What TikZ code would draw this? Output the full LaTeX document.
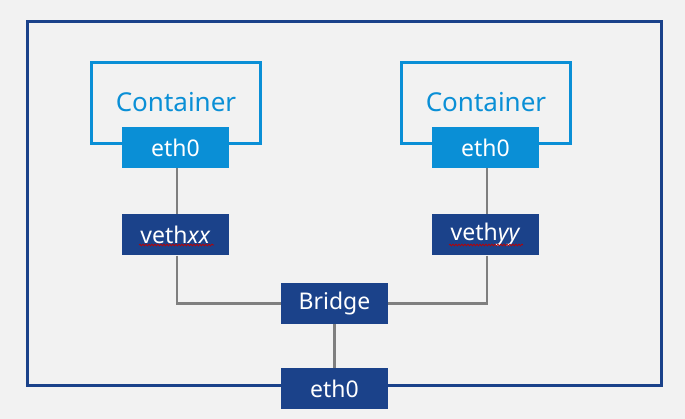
\documentclass[tikz,border=0pt]{standalone}
\usepackage{fontspec}
\setmainfont{Noto Sans}
\usetikzlibrary{decorations.pathmorphing}
\definecolor{navy}{HTML}{1B428A}
\definecolor{lblue}{HTML}{0A8FD6}
\definecolor{bg}{HTML}{F2F2F2}
\definecolor{wire}{HTML}{7F7F7F}
\begin{document}
\begin{tikzpicture}[x=1pt,y=-1pt,
  navybox/.style={fill=navy,text=white,minimum width=107pt,minimum height=41pt,inner sep=0pt,font=\fontsize{23}{26}\selectfont},
  bluebox/.style={fill=lblue,text=white,minimum width=107pt,minimum height=41pt,inner sep=0pt,font=\fontsize{23}{26}\selectfont},
  cont/.style={draw=lblue,line width=3pt,minimum width=169pt,minimum height=81pt,inner sep=0pt},
  ctext/.style={text=lblue,font=\fontsize{26}{30}\selectfont},
  link/.style={draw=wire,line width=2.6pt},
  squig/.style={draw=red!75!black,line width=0.7pt,decorate,decoration={snake,amplitude=0.9pt,segment length=3pt}}]
\fill[bg] (0,0) rectangle (685,419);
\useasboundingbox (0,0) rectangle (685,419);
% outer host
\draw[navy,line width=3pt] (27,22) rectangle (661,385);
% containers
\node[cont] (c1) at (175.5,103.5) {};
\node[cont] (c2) at (485.5,103.5) {};
\node[ctext] (t1) at (176,102) {Container};
\node[ctext] (t2) at (486,102) {Container};
\node[bluebox] (e1) at (175.5,147.5) {eth0};
\node[bluebox] (e2) at (485.5,147.5) {eth0};
\node[navybox] (v1) at (175.5,235) {veth\textit{xx}};
\node[navybox] (v2) at (485.5,235) {veth\textit{yy}};
\node[navybox] (br) at (334.5,303.5) {Bridge};
\node[navybox] (e0) at (334.5,388.5) {eth0};
% connectors
\draw[link] ([xshift=1.5pt]e1.south) -- ([xshift=1.5pt]v1.north);
\draw[link] ([xshift=1.5pt]e2.south) -- ([xshift=1.5pt]v2.north);
\draw[link] ([xshift=1.5pt]v1.south) |- (br.west);
\draw[link] ([xshift=1.5pt]v2.south) |- (br.east);
\draw[link] (br.south) -- (e0.north);
% spell-check underline
\coordinate (s1a) at (139,245);
\coordinate (s1b) at (214,245);
\coordinate (s2a) at (449,245);
\coordinate (s2b) at (523,245);
\draw[squig] (s1a) -- (s1b);
\draw[squig] (s2a) -- (s2b);
\end{tikzpicture}
\end{document}
